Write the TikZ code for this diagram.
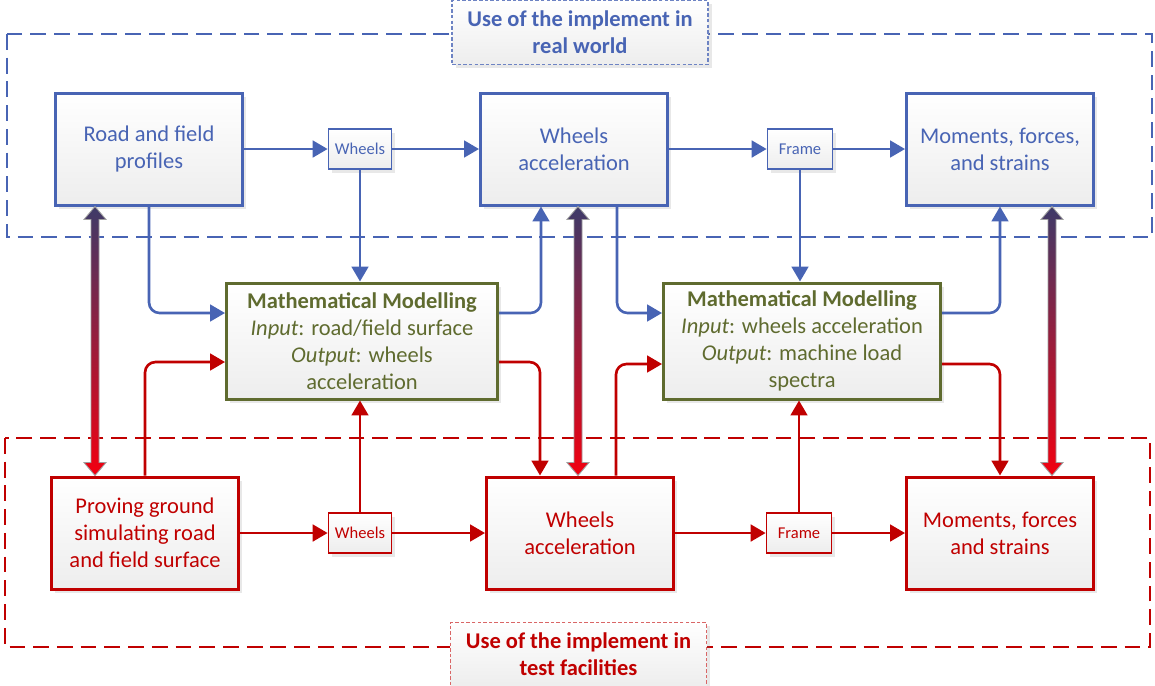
\documentclass[tikz,border=0pt]{standalone}
\usepackage{fontspec}
\setmainfont{Carlito}
\usetikzlibrary{arrows.meta, shadows}

\definecolor{rwblue}{RGB}{72,100,180}
\definecolor{tfred}{RGB}{192,0,0}
\definecolor{mmgreen}{RGB}{95,107,47}
\definecolor{linktop}{RGB}{62,58,104}
\definecolor{linkbot}{RGB}{242,0,16}

\tikzset{
  box/.style={rectangle, top color=white, bottom color=gray!14, align=center,
    font=\fontsize{12.8}{15.3}\selectfont,
    drop shadow={opacity=.18, shadow xshift=2pt, shadow yshift=-2pt}},
  bigbox/.style={box, line width=1.7pt, minimum width=3.74cm, minimum height=2.24cm},
  smallbox/.style={box, line width=1pt, minimum width=1.26cm, minimum height=.8cm,
    inner sep=2pt, font=\fontsize{9.4}{11}\selectfont},
  modelbox/.style={box, line width=1.7pt, draw=mmgreen, text=mmgreen, minimum height=2.32cm},
  tag/.style={box, line width=.6pt, dash pattern=on 2pt off 1.2pt, minimum width=5.12cm,
    minimum height=1.28cm, font=\fontsize{12.8}{15.3}\selectfont\bfseries},
  region/.style={line width=1.4pt, dash pattern=on 9pt off 4.5pt},
  flow/.style={line width=1.5pt, rounded corners=6pt, -{Triangle[length=8.5pt,width=9.5pt]}},
  blueflow/.style={flow, draw=rwblue},
  redflow/.style={flow, draw=tfred}
}

\newcommand\loadlink[2]{%
  \shade[top color=linktop, bottom color=linkbot, draw=gray!75, line width=.5pt]
    (#1) -- ([shift={(.22,-.26)}]#1) -- ([shift={(.08,-.26)}]#1)
    -- ([shift={(.08,.26)}]#2) -- ([shift={(.22,.26)}]#2) -- (#2)
    -- ([shift={(-.22,.26)}]#2) -- ([shift={(-.08,.26)}]#2)
    -- ([shift={(-.08,-.26)}]#1) -- ([shift={(-.22,-.26)}]#1) -- cycle;}

\begin{document}
\begin{tikzpicture}
\useasboundingbox (0,0) rectangle (23.1,-13.7);

\draw[region, rwblue] (0.14,-0.68) rectangle (23.04,-4.74);
\draw[region, tfred] (0.1,-8.76) rectangle (23.0,-12.94);
\node[tag, draw=rwblue!80, text=rwblue] (rwtag) at (11.6,-0.65) {Use of the implement in\\real world};
\node[tag, draw=tfred!60, text=tfred] (tftag) at (11.57,-13.09) {Use of the implement in\\test facilities};

\node[bigbox, draw=rwblue, text=rwblue] (roadT) at (2.98,-2.98) {Road and field\\profiles};
\node[smallbox, draw=rwblue, text=rwblue] (wheelsT) at (7.2,-2.98) {Wheels};
\node[bigbox, draw=rwblue, text=rwblue] (accT) at (11.48,-2.98) {Wheels\\acceleration};
\node[smallbox, draw=rwblue, text=rwblue, minimum width=1.3cm] (frameT) at (16.0,-2.98) {Frame};
\node[bigbox, draw=rwblue, text=rwblue] (loadT) at (20.0,-2.98) {Moments, forces,\\and strains};

\node[modelbox, minimum width=5.42cm] (model1) at (7.24,-6.82)
  {\textbf{Mathematical Modelling}\\\textit{Input}: road/field surface\\\textit{Output}: wheels\\acceleration};
\node[modelbox, minimum width=5.54cm] (model2) at (16.04,-6.82)
  {\textbf{Mathematical Modelling}\\\textit{Input}: wheels acceleration\\\textit{Output}: machine load\\spectra};

\node[bigbox, draw=tfred, text=tfred] (groundB) at (2.9,-10.66) {Proving ground\\simulating road\\and field surface};
\node[smallbox, draw=tfred, text=tfred] (wheelsB) at (7.2,-10.66) {Wheels};
\node[bigbox, draw=tfred, text=tfred] (accB) at (11.6,-10.66) {Wheels\\acceleration};
\node[smallbox, draw=tfred, text=tfred, minimum width=1.3cm] (frameB) at (15.98,-10.66) {Frame};
\node[bigbox, draw=tfred, text=tfred] (loadB) at (20.0,-10.66) {Moments, forces\\and strains};

\draw[blueflow] (roadT) -- (wheelsT);
\draw[blueflow] (wheelsT) -- (accT);
\draw[blueflow] (accT) -- (frameT);
\draw[blueflow] (frameT) -- (loadT);
\draw[blueflow] (roadT.south) |- ([yshift=.56cm]model1.west);
\draw[blueflow] (wheelsT.south) -- (wheelsT.south |- model1.north);
\draw[blueflow] ([yshift=.56cm]model1.east) -| ([xshift=-.66cm]accT.south);
\draw[blueflow] ([xshift=.86cm]accT.south) |- ([yshift=.56cm]model2.west);
\draw[blueflow] (frameT.south) -- (frameT.south |- model2.north);
\draw[blueflow] ([yshift=.56cm]model2.east) -| (loadT.south);

\draw[redflow] (groundB) -- (wheelsB);
\draw[redflow] (wheelsB) -- (accB);
\draw[redflow] (accB) -- (frameB);
\draw[redflow] (frameB) -- (loadB);
\draw[redflow] (groundB.north) |- ([yshift=-.42cm]model1.west);
\draw[redflow] (wheelsB.north) -- (wheelsB.north |- model1.south);
\draw[redflow] ([yshift=-.42cm]model1.east) -| ([xshift=-.8cm]accB.north);
\draw[redflow] ([xshift=.72cm]accB.north) |- ([yshift=-.46cm]model2.west);
\draw[redflow] (frameB.north) -- (frameB.north |- model2.south);
\draw[redflow] ([yshift=-.46cm]model2.east) -| (loadB.north);

\coordinate (link1T) at ([xshift=-1.08cm]roadT.south);
\coordinate (link1B) at (link1T |- groundB.north);
\coordinate (link2T) at ([xshift=.08cm]accT.south);
\coordinate (link2B) at (link2T |- accB.north);
\coordinate (link3T) at ([xshift=1.04cm]loadT.south);
\coordinate (link3B) at (link3T |- loadB.north);
\loadlink{link1T}{link1B}
\loadlink{link2T}{link2B}
\loadlink{link3T}{link3B}
\end{tikzpicture}
\end{document}
